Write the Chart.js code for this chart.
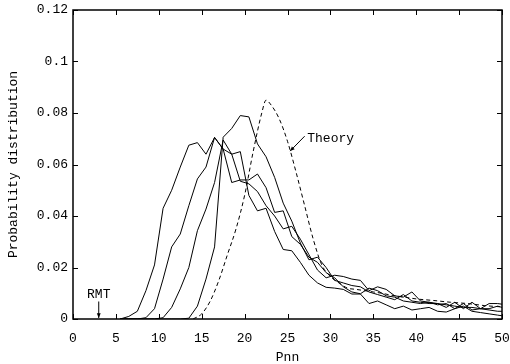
<!DOCTYPE html>
<html>
<head>
<meta charset="utf-8">
<script src="https://cdn.jsdelivr.net/npm/chart.js@4/dist/chart.umd.min.js"></script>
<style>
  html, body { margin: 0; padding: 0; background: #fff; }
  #wrap { width: 510px; height: 364px; }
</style>
</head>
<body>
<div id="wrap"><canvas id="pnn" width="510" height="364"></canvas></div>
<script>
// bin centres of the Pnn histograms
var binCenters = [5.5, 6.5, 7.5, 8.5, 9.5, 10.5, 11.5, 12.5, 13.5, 14.5,
    15.5, 16.5, 17.5, 18.5, 19.5, 20.5, 21.5, 22.5, 23.5, 24.5,
    25.5, 26.5, 27.5, 28.5, 29.5, 30.5, 31.5, 32.5, 33.5, 34.5,
    35.5, 36.5, 37.5, 38.5, 39.5, 40.5, 41.5, 42.5, 43.5, 44.5,
    45.5, 46.5, 47.5, 48.5, 49.5, 50.5];

var seriesA = [0, 0.001, 0.003, 0.011, 0.021, 0.043, 0.050, 0.059, 0.0675, 0.0685,
    0.064, 0.0705, 0.066, 0.064, 0.065, 0.048, 0.042, 0.043, 0.034, 0.027,
    0.0265, 0.022, 0.017, 0.014, 0.0123, 0.012, 0.0115, 0.0097, 0.0097, 0.006,
    0.007, 0.0055, 0.004, 0.005, 0.0035, 0.004, 0.0045, 0.003, 0.0027, 0.004,
    0.005, 0.003, 0.0025, 0.002, 0.0015, 0.001];

var seriesB = [0, 0, 0, 0.0005, 0.004, 0.0155, 0.028, 0.033, 0.044, 0.0544,
    0.059, 0.0705, 0.066, 0.053, 0.054, 0.054, 0.0563, 0.051, 0.0414, 0.042,
    0.032, 0.029, 0.024, 0.022, 0.018, 0.016, 0.0125, 0.0105, 0.0098, 0.012,
    0.011, 0.009, 0.0085, 0.007, 0.0065, 0.006, 0.0065, 0.0055, 0.006, 0.004,
    0.006, 0.0035, 0.004, 0.006, 0.006, 0.0055];

var seriesC = [0, 0, 0, 0, 0, 0.0005, 0.0045, 0.0117, 0.020, 0.0343,
    0.0427, 0.053, 0.0695, 0.064, 0.0535, 0.0525, 0.0495, 0.044, 0.040, 0.035,
    0.036, 0.031, 0.025, 0.019, 0.016, 0.017, 0.0165, 0.0155, 0.015, 0.011,
    0.0125, 0.0115, 0.009, 0.0085, 0.0105, 0.007, 0.0065, 0.006, 0.0045, 0.0065,
    0.004, 0.0065, 0.004, 0.004, 0.005, 0.004];

var seriesD = [0, 0, 0, 0, 0, 0, 0, 0, 0.0003, 0.005,
    0.0155, 0.028, 0.0706, 0.074, 0.079, 0.0785, 0.068, 0.063, 0.055, 0.045,
    0.038, 0.0295, 0.023, 0.024, 0.020, 0.015, 0.014, 0.013, 0.0125, 0.0105,
    0.0095, 0.0085, 0.0075, 0.0095, 0.007, 0.0065, 0.006, 0.006, 0.0055, 0.005,
    0.0045, 0.0045, 0.004, 0.0035, 0.003, 0.003];

// theoretical curve (dashed)
var theoryX = [14, 15, 16, 17, 18, 19, 20, 21, 22, 22.5, 23, 24, 25, 26, 27, 28, 29,
    30, 31, 32, 33, 34, 35, 36, 37, 38, 39, 40, 42, 44, 46, 48, 50];
var theoryY = [0, 0.002, 0.007, 0.015, 0.025, 0.035, 0.048, 0.065, 0.080, 0.085, 0.0835,
    0.078, 0.069, 0.057, 0.044, 0.031, 0.021, 0.0165, 0.014, 0.012, 0.0115, 0.011,
    0.0105, 0.010, 0.0093, 0.0088, 0.0083, 0.0078, 0.0072, 0.0065, 0.006, 0.0052, 0.0047];

var xTicks = [0, 5, 10, 15, 20, 25, 30, 35, 40, 45, 50];
var yTicks = [0, 0.02, 0.04, 0.06, 0.08, 0.1, 0.12];
var yTickLabels = ['0', '0.02', '0.04', '0.06', '0.08', '0.1', '0.12'];

var FONT = '"Liberation Mono", "DejaVu Sans Mono", monospace';

function points(xs, ys) {
    var out = [];
    for (var i = 0; i < xs.length; i++) out.push({x: xs[i], y: ys[i]});
    return out;
}

function solid(data) {
    return {
        data: points(binCenters, data),
        borderColor: '#000',
        borderWidth: 1,
        pointRadius: 0,
        tension: 0,
        fill: false
    };
}

function arrow(ctx, x1, y1, x2, y2) {
    var a = Math.atan2(y2 - y1, x2 - x1), h = 5;
    ctx.beginPath();
    ctx.moveTo(x1, y1);
    ctx.lineTo(x2, y2);
    ctx.stroke();
    ctx.beginPath();
    ctx.moveTo(x2, y2);
    ctx.lineTo(x2 - h * Math.cos(a - 0.4), y2 - h * Math.sin(a - 0.4));
    ctx.lineTo(x2 - h * Math.cos(a + 0.4), y2 - h * Math.sin(a + 0.4));
    ctx.closePath();
    ctx.fill();
}

// frame, inward ticks on all four sides, and the two labels
var frame = {
    id: 'frame',
    afterDraw: function(chart) {
        var ctx = chart.ctx, a = chart.chartArea,
            sx = chart.scales.x, sy = chart.scales.y, t = 5;

        ctx.save();
        ctx.strokeStyle = '#000';
        ctx.fillStyle = '#000';
        ctx.lineWidth = 1.5;
        ctx.strokeRect(a.left, a.top, a.right - a.left, a.bottom - a.top);

        ctx.lineWidth = 1;
        ctx.beginPath();
        xTicks.forEach(function(v) {
            var px = Math.round(sx.getPixelForValue(v)) + 0.5;
            ctx.moveTo(px, a.bottom); ctx.lineTo(px, a.bottom - t);
            ctx.moveTo(px, a.top); ctx.lineTo(px, a.top + t);
        });
        yTicks.forEach(function(v) {
            var py = Math.round(sy.getPixelForValue(v)) + 0.5;
            ctx.moveTo(a.left, py); ctx.lineTo(a.left + t, py);
            ctx.moveTo(a.right, py); ctx.lineTo(a.right - t, py);
        });
        ctx.stroke();

        ctx.font = '13px ' + FONT;
        ctx.textBaseline = 'middle';

        // Theory
        ctx.textAlign = 'left';
        ctx.fillText('Theory', sx.getPixelForValue(27.3), sy.getPixelForValue(0.0699));
        arrow(ctx, sx.getPixelForValue(27.0), sy.getPixelForValue(0.0710),
            sx.getPixelForValue(25.3), sy.getPixelForValue(0.0652));

        // RMT
        ctx.textAlign = 'center';
        ctx.fillText('RMT', sx.getPixelForValue(3), sy.getPixelForValue(0.0095));
        arrow(ctx, sx.getPixelForValue(3), sy.getPixelForValue(0.0068),
            sx.getPixelForValue(3), sy.getPixelForValue(0.0004));
        ctx.restore();
    }
};

new Chart(document.getElementById('pnn').getContext('2d'), {
    type: 'scatter',
    data: {
        datasets: [
            solid(seriesA),
            solid(seriesB),
            solid(seriesC),
            solid(seriesD),
            {
                data: points(theoryX, theoryY),
                borderColor: '#000',
                borderWidth: 1,
                borderDash: [4, 3],
                pointRadius: 0,
                cubicInterpolationMode: 'monotone',
                fill: false
            }
        ]
    },
    options: {
        responsive: false,
        animation: false,
        showLine: true,
        layout: { padding: { top: 10, right: 8, left: 0, bottom: 0 } },
        plugins: {
            legend: { display: false },
            tooltip: { enabled: false }
        },
        scales: {
            x: {
                type: 'linear',
                min: 0,
                max: 50,
                afterFit: function(s) {
                    s.height = 45;
                    s.paddingLeft = 0;
                    s.paddingRight = 0;
                },
                afterBuildTicks: function(s) {
                    s.ticks = xTicks.map(function(v) { return {value: v}; });
                },
                grid: { display: false, drawTicks: false },
                border: { display: false },
                ticks: {
                    padding: 12,
                    color: '#000',
                    maxRotation: 0,
                    font: { family: FONT, size: 13 }
                },
                title: {
                    display: true,
                    text: 'Pnn',
                    color: '#000',
                    padding: { top: 0, bottom: 0 },
                    font: { family: FONT, size: 13, lineHeight: 1 }
                }
            },
            y: {
                type: 'linear',
                min: 0,
                max: 0.12,
                afterFit: function(s) {
                    s.width = 73;
                    s.paddingTop = 0;
                    s.paddingBottom = 0;
                },
                afterBuildTicks: function(s) {
                    s.ticks = yTicks.map(function(v) { return {value: v}; });
                },
                grid: { display: false, drawTicks: false },
                border: { display: false },
                ticks: {
                    padding: 5,
                    color: '#000',
                    font: { family: FONT, size: 13 },
                    callback: function(v) {
                        var i = yTicks.indexOf(v);
                        return i >= 0 ? yTickLabels[i] : '';
                    }
                },
                title: {
                    display: true,
                    text: 'Probability distribution',
                    color: '#000',
                    padding: { top: 6, bottom: 0 },
                    font: { family: FONT, size: 13 }
                }
            }
        }
    },
    plugins: [frame]
});
</script>
</body>
</html>
